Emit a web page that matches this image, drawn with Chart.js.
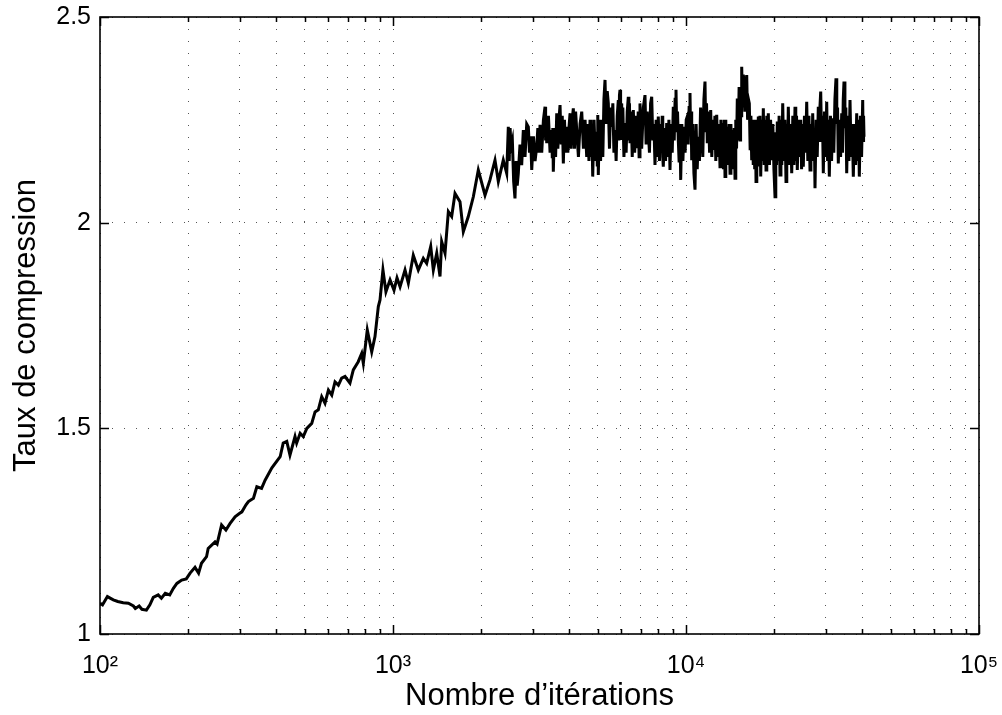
<!DOCTYPE html>
<html>
<head>
<meta charset="utf-8">
<script src="https://cdn.jsdelivr.net/npm/chart.js@4/dist/chart.umd.min.js"></script>
<style>
html,body{margin:0;padding:0;background:#fff;}
#c{display:block;}
</style>
</head>
<body>
<canvas id="c" width="1002" height="715"></canvas>
<script>
// ---- data ----
const iterations = [100,102,106,111,115,120,125,130,132,136,139,144,148,152,158,162,167,173,178,183,190,197,203,211,217,222,231,234,247,251,260,269,278,289,299,305,315,321,334,343,356,366,386,412,422,434,445,463,469,482,494,508,528,542,556,571,586,602,618,634,651,668,686,713,732,761,782,792,817,846,868,891,903,924,946,977,1008,1032,1057,1099,1128,1173,1220,1269,1303,1345,1373,1410,1447,1466,1505,1545,1586,1628,1693,1738,1807,1880,1955,2061,2143,2229,2288,2379,2444,
2475,2493,2510,2528,2555,2581,2608,2631,2654,2677,2713,2749,2785,2822,2860,2897,2923,2949,2975,3015,3054,3094,3121,3149,3176,3218,3261,3303,3318,3332,3347,3392,3436,3481,3496,3510,3525,3557,3589,3621,3653,3684,3716,3749,3781,3814,3848,3883,3917,3951,3986,4020,4055,4090,4125,4162,4200,4237,4294,4350,4407,4466,4524,4583,4623,4664,4704,4737,4771,4804,4855,4907,
4958,4979,4999,5020,5065,5110,5156,5201,5247,5292,5338,5385,5431,5480,5529,5578,5627,5676,5725,5775,5825,5875,5901,5928,5954,5981,6007,6034,6087,6140,6193,6247,6301,6355,6384,6412,6441,6497,6554,6610,6680,6751,6821,6869,6918,6966,7059,7152,7245,7309,7372,7436,7503,7570,7637,7704,7771,7838,7906,7975,8043,8116,8188,8261,8296,8331,8366,8442,8517,8593,8668,8743,8818,8895,8973,9050,9115,9179,9244,9300,9356,9412,9472,9532,9592,9676,9760,9844,9930,10017,
10103,10175,10247,10319,10365,10412,10458,10550,10641,10733,10827,10921,11015,11114,11214,11313,11412,11511,11610,11681,11751,11822,11929,12035,12142,12248,12355,12461,12550,12639,12728,12840,12951,13063,13156,13250,13343,13424,13506,13587,13670,13752,13835,13934,14033,14132,14233,14334,14435,14523,14610,14698,14787,14877,14966,15073,15180,15287,15356,15424,15493,15587,15682,15776,15889,16001,16114,16225,16336,16447,16551,16656,16760,16862,16964,17066,17156,17247,17337,17442,17548,17653,17765,17877,17989,18113,18236,18360,18491,18623,18754,18868,18982,19096,19268,19441,19613,19785,19956,
20128,20250,20373,20495,20642,20788,20935,21085,21234,21384,21571,21758,21945,22078,22212,22345,22547,22748,22950,23151,23351,23552,23695,23839,23982,24198,24415,24631,24801,24970,25140,25367,25594,25821,26047,26273,26499,26688,26878,27067,27232,27396,27561,27802,28044,28285,28465,28644,28824,29022,29221,29419,29685,29950,30216,30424,30632,30840,31117,31395,31672,31950,32228,32505,32703,32902,33100,33399,33698,33997,34204,34410,34617,34864,35112,35359,35669,35978,36288,36606,36923,37241,37577,37913,38249,38512,38776,39039,39391,39743,40095,40232,40370,40507];
const ratio = [1.075,1.071,1.091,1.083,1.079,1.076,1.075,1.068,1.062,1.068,1.060,1.058,1.071,1.089,1.095,1.087,1.099,1.095,1.111,1.123,1.131,1.134,1.148,1.162,1.148,1.172,1.188,1.208,1.224,1.219,1.265,1.253,1.269,1.285,1.293,1.297,1.314,1.322,1.330,1.358,1.354,1.374,1.404,1.431,1.464,1.468,1.435,1.480,1.464,1.488,1.480,1.500,1.512,1.540,1.545,1.577,1.561,1.593,1.581,1.613,1.605,1.622,1.626,1.610,1.642,1.662,1.682,1.658,1.739,1.686,1.723,1.796,1.812,1.885,1.832,1.861,1.836,1.866,1.844,1.885,1.853,1.921,1.885,1.913,1.901,1.942,1.885,1.926,1.869,1.954,1.926,2.027,2.015,2.071,2.051,1.978,2.015,2.063,2.128,2.067,2.104,2.152,2.100,2.152,2.120,
2.233,2.150,2.230,2.185,2.200,2.100,2.059,2.150,2.090,2.120,2.190,2.140,2.225,2.160,2.240,2.233,2.170,2.210,2.128,2.210,2.150,2.185,2.230,2.170,2.238,2.170,2.250,2.282,2.200,2.260,2.193,2.260,2.170,2.225,2.160,2.230,2.124,2.230,2.160,2.266,2.180,2.250,2.286,2.190,2.260,2.144,2.250,2.170,2.233,2.170,2.230,2.266,2.180,2.250,2.278,2.180,2.270,2.225,2.160,2.240,2.270,2.180,2.250,2.160,2.240,2.150,2.250,2.160,2.240,2.112,2.250,2.150,
2.221,2.140,2.262,2.116,2.250,2.150,2.250,2.160,2.300,2.347,2.240,2.320,2.290,2.180,2.280,2.233,2.290,2.170,2.225,2.150,2.260,2.298,2.200,2.310,2.323,2.230,2.290,2.201,2.280,2.160,2.242,2.170,2.270,2.306,2.200,2.290,2.193,2.270,2.160,2.274,2.170,2.260,2.181,2.270,2.160,2.290,2.180,2.280,2.310,2.190,2.270,2.225,2.170,2.290,2.306,2.200,2.240,2.140,2.250,2.160,2.258,2.150,2.240,2.209,2.260,2.160,2.136,2.230,2.150,2.242,2.160,2.250,2.128,2.240,2.170,2.282,2.200,2.300,2.323,2.220,2.270,2.201,2.150,2.240,2.104,2.240,2.150,2.233,2.170,2.250,
2.258,2.190,2.280,2.315,2.220,2.270,2.152,2.240,2.120,2.080,2.240,2.130,2.209,2.150,2.280,2.238,2.160,2.300,2.343,2.220,2.290,2.193,2.270,2.170,2.274,2.160,2.250,2.177,2.260,2.150,2.262,2.160,2.240,2.136,2.250,2.150,2.242,2.130,2.250,2.112,2.250,2.140,2.233,2.140,2.240,2.120,2.240,2.140,2.225,2.130,2.230,2.108,2.250,2.180,2.302,2.200,2.330,2.201,2.320,2.260,2.379,2.280,2.360,2.347,2.270,2.330,2.359,2.250,2.300,2.290,2.180,2.260,2.152,2.250,2.140,2.238,2.130,2.250,2.100,2.240,2.150,2.258,2.140,2.260,2.112,2.250,2.150,2.278,2.140,2.250,2.128,2.260,2.150,2.266,2.140,2.250,2.152,2.240,2.130,
2.063,2.220,2.140,2.246,2.150,2.260,2.116,2.250,2.140,2.290,2.150,2.250,2.100,2.240,2.150,2.282,2.140,2.240,2.120,2.260,2.140,2.282,2.150,2.260,2.128,2.250,2.160,2.250,2.130,2.240,2.136,2.260,2.170,2.294,2.150,2.260,2.128,2.240,2.150,2.266,2.160,2.230,2.084,2.250,2.160,2.282,2.200,2.280,2.319,2.200,2.260,2.120,2.270,2.160,2.294,2.150,2.250,2.112,2.260,2.150,2.254,2.170,2.300,2.351,2.240,2.280,2.144,2.250,2.160,2.266,2.170,2.300,2.343,2.230,2.280,2.120,2.260,2.150,2.298,2.160,2.240,2.112,2.240,2.140,2.266,2.150,2.250,2.112,2.260,2.160,2.298,2.200,2.260,2.209];

const xMajorTicks = [100, 1000, 10000, 100000];
const xTickLabels = ['10\u00B2', '10\u00B3', '10\u2074', '10\u2075'];
const xMinorTicks = [200,300,400,500,600,700,800,900,2000,3000,4000,5000,6000,7000,8000,9000,20000,30000,40000,50000,60000,70000,80000,90000];
const yTicks = [1, 1.5, 2, 2.5];
const yTickLabels = ['1', '1.5', '2', '2.5'];

const xTitle = 'Nombre d\u2019it\u00E9rations';
const yTitle = 'Taux de compression';

const FONT = "'Liberation Sans', Arial, Helvetica, sans-serif";

const points = iterations.map((v, i) => ({x: v, y: ratio[i]}));

// box + inward tick marks (MATLAB style)
const boxPlugin = {
  id: 'box',
  afterDraw(chart) {
    const {ctx, chartArea: a, scales: {x, y}} = chart;
    ctx.save();
    ctx.strokeStyle = '#000';
    ctx.lineWidth = 1.5;
    ctx.setLineDash([]);
    ctx.beginPath();
    const tick = (v, len) => {
      const px = Math.round(x.getPixelForValue(v)) + 0.5;
      ctx.moveTo(px, a.bottom); ctx.lineTo(px, a.bottom - len);
      ctx.moveTo(px, a.top); ctx.lineTo(px, a.top + len);
    };
    xMajorTicks.forEach(v => tick(v, 9));
    xMinorTicks.forEach(v => tick(v, 5));
    yTicks.forEach(v => {
      const py = Math.round(y.getPixelForValue(v)) + 0.5;
      ctx.moveTo(a.left, py); ctx.lineTo(a.left + 9, py);
      ctx.moveTo(a.right, py); ctx.lineTo(a.right - 9, py);
    });
    ctx.stroke();
    ctx.lineWidth = 1.6;
    ctx.strokeRect(a.left, a.top, a.right - a.left, a.bottom - a.top);
    ctx.restore();
  }
};

new Chart(document.getElementById('c'), {
  type: 'line',
  data: {
    datasets: [{
      data: points,
      borderColor: '#000',
      borderWidth: 3,
      pointRadius: 0,
      tension: 0,
      fill: false
    }]
  },
  options: {
    responsive: false,
    animation: false,
    devicePixelRatio: 1,
    layout: {padding: {top: 17, right: 23, left: 0, bottom: 0}},
    plugins: {legend: {display: false}, tooltip: {enabled: false}},
    scales: {
      x: {
        type: 'logarithmic',
        min: 100,
        max: 100000,
        afterBuildTicks: s => { s.ticks = xMajorTicks.concat(xMinorTicks).sort((a, b) => a - b).map(v => ({value: v, major: xMajorTicks.includes(v)})); },
        afterFit: s => { s.height = 81; },
        grid: {color: '#555', lineWidth: 1, drawTicks: false},
        border: {display: false, dash: [1, 11]},
        ticks: {
          autoSkip: false, maxRotation: 0, minRotation: 0, padding: 0,
          color: '#000', font: {family: FONT, size: 25, lineHeight: '64px'},
          callback: v => { const i = xMajorTicks.indexOf(v); return i >= 0 ? xTickLabels[i] : ''; }
        },
        title: {display: true, text: xTitle, color: '#000', font: {family: FONT, size: 31}, padding: {top: 0, bottom: 0}}
      },
      y: {
        type: 'linear',
        min: 1,
        max: 2.5,
        afterBuildTicks: s => { s.ticks = yTicks.map(v => ({value: v})); },
        afterFit: s => { s.width = 100; },
        grid: {color: '#555', lineWidth: 1, drawTicks: false},
        border: {display: false, dash: [1, 11]},
        ticks: {
          padding: 9, color: '#000', font: {family: FONT, size: 25, lineHeight: '8px'},
          callback: v => { const i = yTicks.indexOf(v); return i >= 0 ? yTickLabels[i] : ''; }
        },
        title: {display: true, text: yTitle, color: '#000', font: {family: FONT, size: 31}, padding: {top: 8, bottom: 0}}
      }
    }
  },
  plugins: [boxPlugin]
});
</script>
</body>
</html>
